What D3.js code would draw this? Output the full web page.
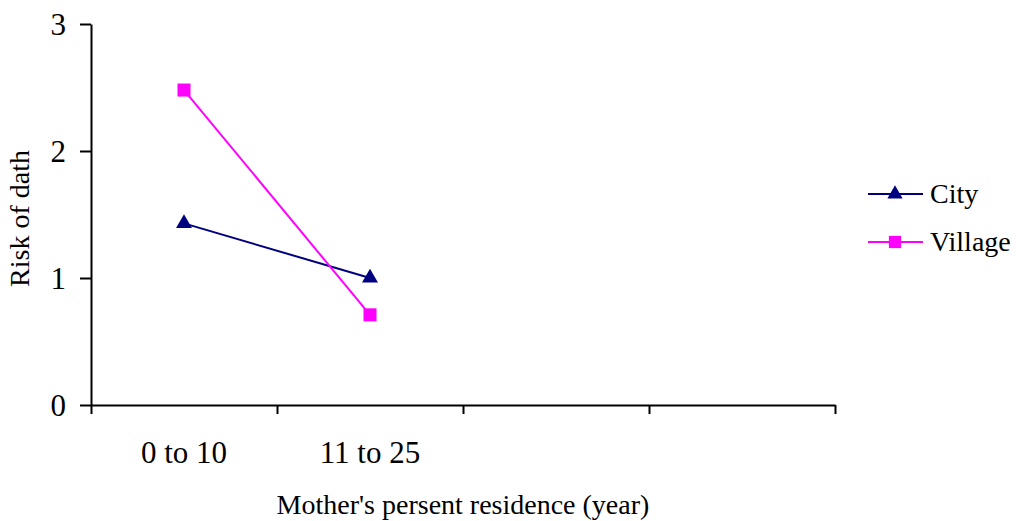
<!DOCTYPE html>
<html>
<head>
<meta charset="utf-8">
<script src="https://cdn.jsdelivr.net/npm/d3@7"></script>
<style>
  body { margin: 0; background: #fff; }
  text { font-family: "Liberation Serif", "Times New Roman", serif; fill: #000; }
  .axis path, .axis line { stroke: #000; stroke-width: 2; }
</style>
</head>
<body>
<svg id="svg1" width="1016" height="521"></svg>
<script>
// data
var categories = ["0 to 10", "11 to 25"];
var slots = 4;                      // x axis has 4 category slots, only 2 are filled
var city = [1.43, 1.0];
var village = [2.48, 0.71];
var yTicks = [0, 1, 2, 3];

var series = [
  {name: "City", values: city, color: "#000080", shape: d3.symbolTriangle},
  {name: "Village", values: village, color: "#ff00ff", shape: d3.symbolSquare}
];

var svg = d3.select("#svg1"),
    margin = {top: 24, right: 181, bottom: 116, left: 91},
    width = +svg.attr("width") - margin.left - margin.right,
    height = +svg.attr("height") - margin.top - margin.bottom,
    g = svg.append("g").attr("transform", "translate(" + margin.left + "," + margin.top + ")");

var x = d3.scaleBand().domain(d3.range(slots)).range([0, width]);
var xEdge = d3.scaleLinear().domain([0, slots]).range([0, width]);
var y = d3.scaleLinear().domain([0, 3]).range([height, 0]);

// x axis: ticks sit between categories
g.append("g")
    .attr("class", "x axis")
    .attr("transform", "translate(0," + height + ")")
    .call(d3.axisBottom(xEdge).ticks(slots).tickFormat("").tickSizeInner(9).tickSizeOuter(0));

g.selectAll(".xlabel")
    .data(categories)
  .enter().append("text")
    .attr("class", "xlabel")
    .attr("x", function(d, i) { return x(i) + x.bandwidth() / 2; })
    .attr("y", height + 58)
    .attr("text-anchor", "middle")
    .style("font-size", "31px")
    .text(function(d) { return d; });

// y axis
var yAxis = g.append("g")
    .attr("class", "y axis")
    .call(d3.axisLeft(y).tickValues(yTicks).tickFormat(d3.format("d")).tickSizeInner(11).tickSizeOuter(0).tickPadding(14));
yAxis.selectAll("text")
    .style("font-size", "31px")
    .attr("dy", "0.35em");

// lines
var line = d3.line()
    .x(function(d, i) { return x(i) + x.bandwidth() / 2; })
    .y(function(d) { return y(d); });

series.forEach(function(s) {
  g.append("path")
      .datum(s.values)
      .attr("fill", "none")
      .attr("stroke", s.color)
      .attr("stroke-width", 2)
      .attr("d", line);

  g.selectAll(".pt-" + s.name)
      .data(s.values)
    .enter().append("path")
      .attr("class", "pt-" + s.name)
      .attr("transform", function(d, i) { return "translate(" + (x(i) + x.bandwidth() / 2) + "," + y(d) + ")"; })
      .attr("d", d3.symbol().type(s.shape).size(s.shape === d3.symbolSquare ? 170 : 110))
      .attr("fill", s.color);
});

// legend
var legend = svg.append("g").attr("transform", "translate(868,194)");
var item = legend.selectAll(".legend")
    .data(series)
  .enter().append("g")
    .attr("class", "legend")
    .attr("transform", function(d, i) { return "translate(0," + i * 48 + ")"; });
item.append("line")
    .attr("x1", 0).attr("x2", 55)
    .attr("stroke", function(d) { return d.color; })
    .attr("stroke-width", 2);
item.append("path")
    .attr("transform", "translate(27,0)")
    .attr("d", function(d) { return d3.symbol().type(d.shape).size(d.shape === d3.symbolSquare ? 150 : 100)(); })
    .attr("fill", function(d) { return d.color; });
item.append("text")
    .attr("x", 62)
    .attr("y", 9)
    .style("font-size", "28px")
    .text(function(d) { return d.name; });

// axis titles
svg.append("text")
    .attr("transform", "translate(29," + (margin.top + height / 2 + 4) + ") rotate(-90)")
    .attr("text-anchor", "middle")
    .style("font-size", "28px")
    .text("Risk of dath");

svg.append("text")
    .attr("x", margin.left + width / 2)
    .attr("y", 514)
    .attr("text-anchor", "middle")
    .style("font-size", "28px")
    .text("Mother's persent residence (year)");
</script>
</body>
</html>
